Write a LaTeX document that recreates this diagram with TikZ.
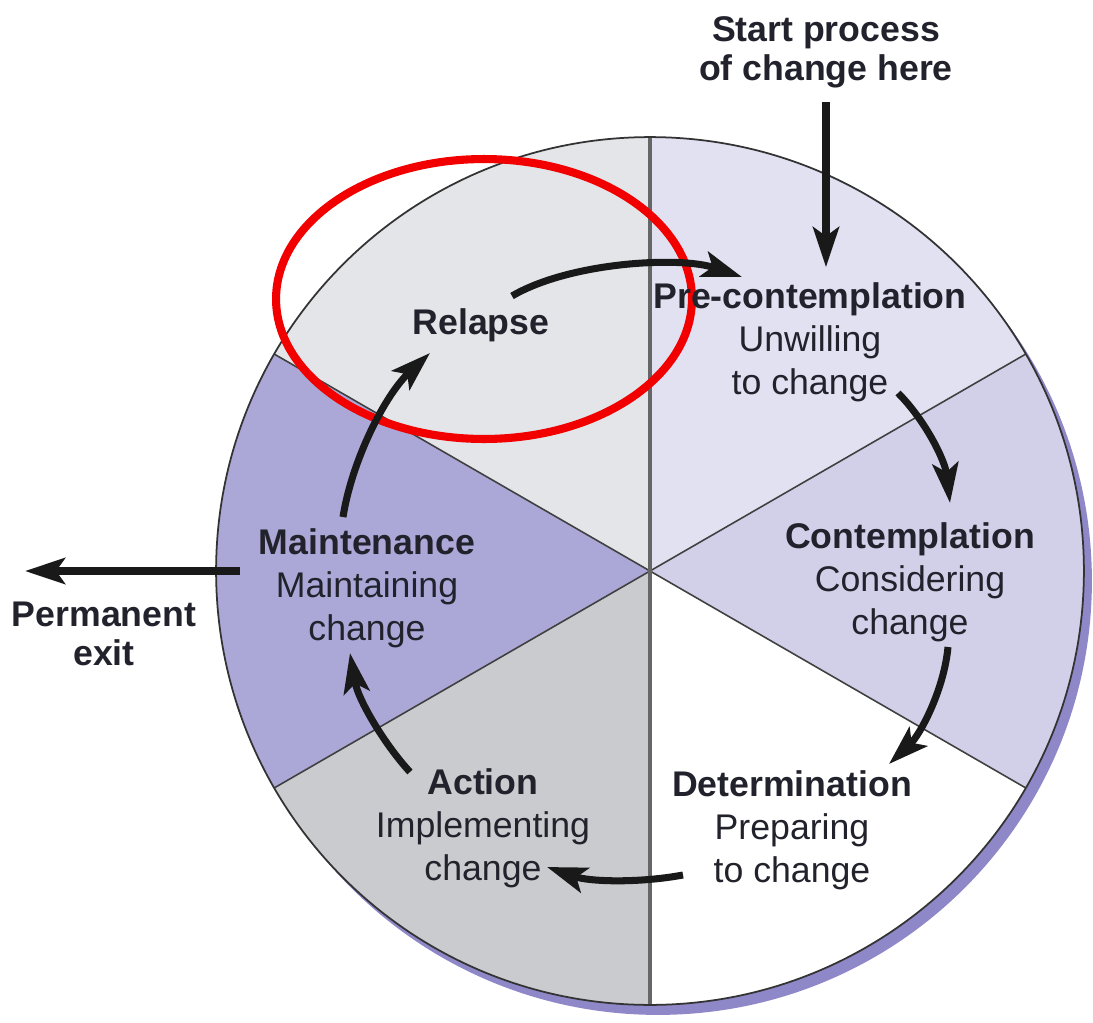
\documentclass[tikz,border=0pt]{standalone}
\usepackage{fontspec}
\setmainfont{Liberation Sans}
\usetikzlibrary{arrows.meta}
\definecolor{relapsec}{HTML}{E3E5E8}
\definecolor{prec}{HTML}{E2E1F2}
\definecolor{contc}{HTML}{D2D0E9}
\definecolor{actc}{HTML}{C9CBCE}
\definecolor{maintc}{HTML}{ABA7D6}
\definecolor{shadowc}{HTML}{8E88C8}
\definecolor{inkc}{HTML}{22222C}
\definecolor{redc}{HTML}{F20000}
\begin{document}
\begin{tikzpicture}[x=0.02cm,y=-0.02cm,
  stagetext/.style={align=center, inner sep=0pt, text=inkc, font=\fontsize{20.3}{24.4}\selectfont},
  flow/.style={line width=4pt, draw=black!90, -{Stealth[length=0.8cm,width=0.52cm,inset=0.18cm]}},
  divider/.style={draw=black!75, line width=0.9pt},
  mainline/.style={draw=black!60, line width=1.8pt}]
\useasboundingbox (0,0) rectangle (1093,1022);
\def\R{8.68cm}
\coordinate (C) at (650,571);
% shadow
\fill[shadowc] ([shift={(0.16cm,-0.2cm)}]C) circle[radius=\R];
% sectors
\fill[relapsec] (C) -- ++(90:\R) arc[start angle=90,end angle=150,radius=\R] -- cycle;
\fill[prec] (C) -- ++(30:\R) arc[start angle=30,end angle=90,radius=\R] -- cycle;
\fill[contc] (C) -- ++(-30:\R) arc[start angle=-30,end angle=30,radius=\R] -- cycle;
\fill[white] (C) -- ++(-90:\R) arc[start angle=-90,end angle=-30,radius=\R] -- cycle;
\fill[actc] (C) -- ++(210:\R) arc[start angle=210,end angle=270,radius=\R] -- cycle;
\fill[maintc] (C) -- ++(150:\R) arc[start angle=150,end angle=210,radius=\R] -- cycle;
% outline and dividers
\path (C) ++(90:\R) coordinate (top) (C) ++(-90:\R) coordinate (bot)
      (C) ++(30:\R) coordinate (ur) (C) ++(210:\R) coordinate (ll)
      (C) ++(150:\R) coordinate (ul) (C) ++(-30:\R) coordinate (lr);
\draw[divider] (ur) -- (ll);
\draw[divider] (ul) -- (lr);
\draw[mainline] (top) -- (bot);
\draw[black!80, line width=1pt] (C) circle[radius=\R];
% highlight ellipse
\draw[redc, line width=4.6pt] (484,299) ellipse[x radius=4.16cm, y radius=2.8cm];
% texts
\node[stagetext, font=\bfseries\fontsize{20.3}{22.4}\selectfont] (start) at (826,52) {Start process\\of change here};
\node[stagetext] (pre) at (810,342) {\textbf{Pre-contemplation}\\Unwilling\\to change};
\node[stagetext] (cont) at (910,582) {\textbf{Contemplation}\\Considering\\change};
\node[stagetext] (det) at (792,830) {\textbf{Determination}\\Preparing\\to change};
\node[stagetext] (act) at (483,828) {\textbf{Action}\\Implementing\\change};
\node[stagetext] (maint) at (367,588) {\textbf{Maintenance}\\Maintaining\\change};
\node[stagetext, font=\bfseries\fontsize{20.3}{24.4}\selectfont] (relapse) at (481,325) {Relapse};
\node[stagetext, font=\bfseries\fontsize{20.3}{22.4}\selectfont] (exit) at (104,634) {Permanent\\exit};
% arrow end points
\coordinate (a1s) at (512,296); \coordinate (a1e) at (742,277);
\coordinate (a3s) at (898,393); \coordinate (a3e) at (950,503);
\coordinate (a4s) at (948,647); \coordinate (a4e) at (889,764);
\coordinate (a5s) at (683,875); \coordinate (a5e) at (547,867);
\coordinate (a6s) at (410,772); \coordinate (a6e) at (350,653);
\coordinate (a7s) at (343,517); \coordinate (a7e) at (430,353);
\coordinate (a8s) at (240,571); \coordinate (a8e) at (25,571);
% arrows
\draw[flow, shorten <=0.28cm, shorten >=0.3cm] (start.south) -- (start.south |- pre.north);
\draw[flow] (a1s) .. controls (570,262) and (680,256) .. (a1e);
\draw[flow] (a3s) .. controls (925,420) and (945,460) .. (a3e);
\draw[flow] (a4s) .. controls (944,690) and (920,735) .. (a4e);
\draw[flow] (a5s) .. controls (640,883) and (590,882) .. (a5e);
\draw[flow] (a6s) .. controls (385,745) and (358,700) .. (a6e);
\draw[flow] (a7s) .. controls (352,460) and (385,395) .. (a7e);
\draw[flow] (a8s) -- (a8e);
\end{tikzpicture}
\end{document}
